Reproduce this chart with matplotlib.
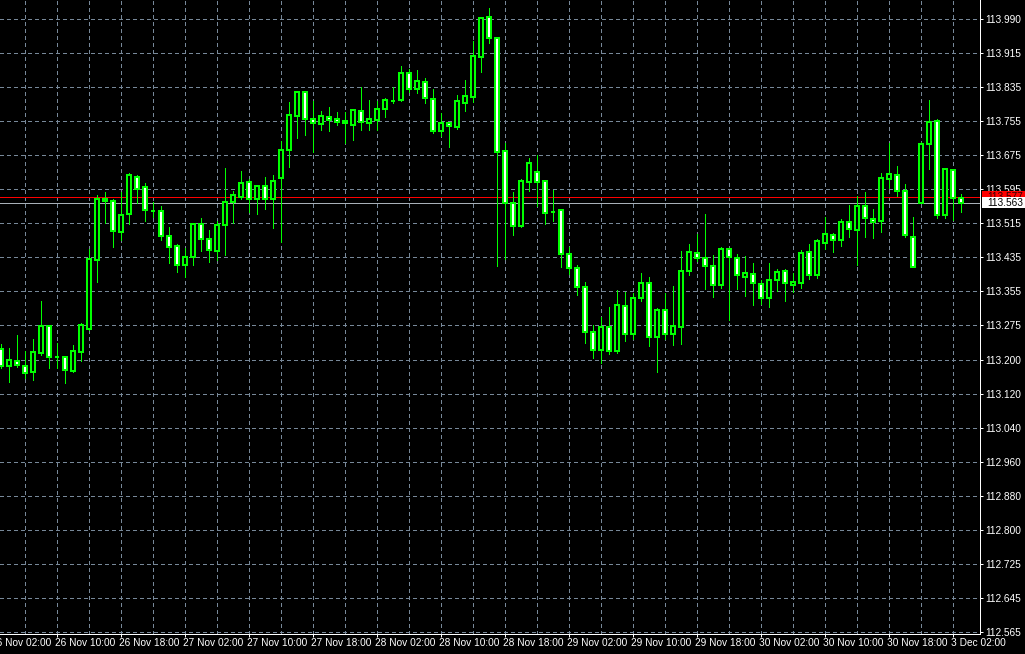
import numpy as np
import matplotlib.pyplot as plt
from matplotlib.patches import Rectangle

plt.rcParams["font.family"] = ["Liberation Sans", "DejaVu Sans"]

# ---------------------------------------------------------------------------
# H1 bars, 26 Nov 03:00 .. 3 Dec 03:00 (weekend skipped)
# ---------------------------------------------------------------------------
opens = [113.223, 113.183, 113.195, 113.183, 113.169, 113.214, 113.276, 113.204, 113.204, 113.172,
         113.216, 113.269, 113.430, 113.572, 113.567, 113.495, 113.537, 113.623, 113.600, 113.544,
         113.544, 113.486, 113.462, 113.418, 113.437, 113.514, 113.479, 113.451, 113.511, 113.565,
         113.576, 113.611, 113.572, 113.602, 113.572, 113.620, 113.686, 113.765, 113.820, 113.758,
         113.746, 113.762, 113.758, 113.753, 113.744, 113.776, 113.748, 113.755, 113.781, 113.799,
         113.802, 113.865, 113.827, 113.844, 113.804, 113.730, 113.748, 113.739, 113.795, 113.809,
         113.902, 113.995, 113.946, 113.683, 113.562, 113.509, 113.611, 113.634, 113.613, 113.541,
         113.546, 113.444, 113.411, 113.367, 113.262, 113.221, 113.274, 113.218, 113.323, 113.258,
         113.342, 113.376, 113.251, 113.314, 113.258, 113.274, 113.404, 113.446, 113.434, 113.416,
         113.372, 113.455, 113.434, 113.390, 113.397, 113.374, 113.342, 113.383, 113.404, 113.372,
         113.376, 113.448, 113.395, 113.469, 113.488, 113.476, 113.518, 113.500, 113.555, 113.525,
         113.520, 113.618, 113.627, 113.590, 113.483, 113.562, 113.699, 113.753, 113.534, 113.639,
         113.574]
highs = [113.235, 113.225, 113.255, 113.218, 113.246, 113.334, 113.276, 113.237, 113.207, 113.232,
         113.283, 113.455, 113.581, 113.588, 113.572, 113.588, 113.632, 113.627, 113.609, 113.565,
         113.555, 113.506, 113.467, 113.458, 113.514, 113.527, 113.500, 113.520, 113.644, 113.590,
         113.637, 113.618, 113.604, 113.623, 113.627, 113.706, 113.797, 113.820, 113.823, 113.799,
         113.776, 113.786, 113.774, 113.774, 113.778, 113.832, 113.802, 113.799, 113.806, 113.832,
         113.881, 113.874, 113.871, 113.853, 113.827, 113.772, 113.748, 113.813, 113.848, 113.939,
         113.995, 114.016, 113.946, 113.702, 113.588, 113.618, 113.667, 113.674, 113.616, 113.593,
         113.548, 113.460, 113.418, 113.379, 113.279, 113.297, 113.321, 113.360, 113.355, 113.353,
         113.400, 113.390, 113.318, 113.353, 113.369, 113.451, 113.467, 113.490, 113.537, 113.442,
         113.460, 113.458, 113.444, 113.439, 113.423, 113.383, 113.423, 113.409, 113.409, 113.400,
         113.453, 113.467, 113.479, 113.530, 113.493, 113.525, 113.558, 113.579, 113.588, 113.548,
         113.632, 113.702, 113.648, 113.607, 113.530, 113.704, 113.802, 113.758, 113.644, 113.641,
         113.583]
lows = [113.179, 113.146, 113.181, 113.156, 113.151, 113.209, 113.179, 113.179, 113.144, 113.169,
        113.195, 113.267, 113.379, 113.516, 113.460, 113.476, 113.514, 113.562, 113.520, 113.530,
        113.476, 113.423, 113.402, 113.390, 113.418, 113.451, 113.425, 113.430, 113.442, 113.516,
        113.572, 113.541, 113.537, 113.548, 113.504, 113.472, 113.646, 113.713, 113.720, 113.681,
        113.732, 113.730, 113.744, 113.702, 113.709, 113.732, 113.732, 113.732, 113.762, 113.795,
        113.799, 113.820, 113.818, 113.795, 113.725, 113.718, 113.693, 113.734, 113.776, 113.797,
        113.867, 113.934, 113.416, 113.432, 113.488, 113.506, 113.590, 113.555, 113.514, 113.520,
        113.414, 113.397, 113.348, 113.237, 113.202, 113.190, 113.211, 113.214, 113.242, 113.246,
        113.334, 113.230, 113.169, 113.246, 113.232, 113.235, 113.395, 113.428, 113.362, 113.344,
        113.365, 113.290, 113.362, 113.346, 113.325, 113.328, 113.321, 113.358, 113.334, 113.355,
        113.365, 113.386, 113.388, 113.455, 113.448, 113.462, 113.483, 113.418, 113.483, 113.481,
        113.495, 113.597, 113.579, 113.483, 113.414, 113.562, 113.641, 113.527, 113.527, 113.523,
        113.541]
closes = [113.183, 113.197, 113.186, 113.167, 113.216, 113.276, 113.204, 113.204, 113.174, 113.218,
          113.279, 113.432, 113.572, 113.567, 113.497, 113.534, 113.627, 113.595, 113.546, 113.544,
          113.486, 113.460, 113.418, 113.437, 113.514, 113.479, 113.453, 113.511, 113.565, 113.581,
          113.609, 113.572, 113.602, 113.572, 113.613, 113.686, 113.767, 113.820, 113.758, 113.748,
          113.765, 113.755, 113.751, 113.748, 113.778, 113.751, 113.758, 113.781, 113.802, 113.799,
          113.865, 113.827, 113.846, 113.806, 113.730, 113.748, 113.741, 113.799, 113.811, 113.904,
          113.992, 113.946, 113.681, 113.562, 113.509, 113.613, 113.655, 113.611, 113.539, 113.541,
          113.444, 113.411, 113.367, 113.262, 113.221, 113.274, 113.218, 113.325, 113.258, 113.342,
          113.376, 113.251, 113.314, 113.258, 113.276, 113.404, 113.448, 113.434, 113.416, 113.372,
          113.455, 113.437, 113.395, 113.400, 113.376, 113.342, 113.383, 113.402, 113.376, 113.379,
          113.446, 113.395, 113.474, 113.490, 113.476, 113.518, 113.502, 113.555, 113.527, 113.518,
          113.620, 113.630, 113.590, 113.488, 113.414, 113.699, 113.751, 113.534, 113.641, 113.574,
          113.563]

price_labels = ["113.990", "113.915", "113.835", "113.755", "113.675", "113.595", "113.515",
                "113.435", "113.355", "113.275", "113.200", "113.120", "113.040", "112.960",
                "112.880", "112.800", "112.725", "112.645", "112.565"]

time_labels = ["26 Nov 02:00", "26 Nov 10:00", "26 Nov 18:00", "27 Nov 02:00", "27 Nov 10:00",
               "27 Nov 18:00", "28 Nov 02:00", "28 Nov 10:00", "28 Nov 18:00", "29 Nov 02:00",
               "29 Nov 10:00", "29 Nov 18:00", "30 Nov 02:00", "30 Nov 10:00", "30 Nov 18:00",
               "3 Dec 02:00"]
label_bars = [-1, 7, 15, 23, 31, 39, 47, 55, 63, 71, 79, 87, 95, 103, 111, 119]

ask_price = 113.577
bid_price = 113.563

GREEN = "#00FF00"
GRID = "#778899"
LW = 0.72   # one pixel at 100 dpi

# ---------------------------------------------------------------------------
fig = plt.figure(figsize=(10.25, 6.54), dpi=100, facecolor="black")
ax = fig.add_axes([0, 20 / 654, 980 / 1025, 634 / 654])
ax.set_facecolor("black")

n = len(opens)
x = np.arange(n)

p_top = float(price_labels[0])
p_bot = float(price_labels[-1])
px_per_unit = 613 / (p_top - p_bot)
ax.set_ylim(p_bot - 2 / px_per_unit, p_top + 19 / px_per_unit)
ax.set_xlim(-1 / 16, 980 / 8 - 1 / 16)

# grid
yt = np.linspace(p_top, p_bot, len(price_labels))
for y in yt:
    ax.axhline(y, color=GRID, lw=LW, ls=(0, (3, 3)), zorder=0.5, antialiased=False)
for b in range(3, n, 4):
    ax.axvline(b, color=GRID, lw=LW, ls=(0, (3, 3)), zorder=0.5, antialiased=False)

# ask / bid lines
ax.axhline(ask_price, color="#FF0000", lw=LW, zorder=1, antialiased=False)
ax.axhline(bid_price, color="#A8B0B8", lw=LW, zorder=1, antialiased=False)

# candles
ax.vlines(x, lows, highs, color=GREEN, lw=LW, zorder=2, antialiased=False)
for i in range(n):
    o, c = opens[i], closes[i]
    fc = "black" if c >= o else "white"
    ax.add_patch(Rectangle((i - 0.25, min(o, c)), 0.5, abs(c - o),
                           fc=fc, ec=GREEN, lw=1.1, zorder=3, antialiased=False))

# axes styling
for s in ("left", "top"):
    ax.spines[s].set_visible(False)
for s in ("right", "bottom"):
    ax.spines[s].set_color("white")
    ax.spines[s].set_linewidth(LW)
    ax.spines[s].set_antialiased(False)

ax.yaxis.tick_right()
ax.set_yticks(yt)
ax.set_yticklabels(price_labels)
ax.tick_params(axis="y", colors="white", labelsize=7.3, length=2.5, width=LW,
               pad=1.5, direction="out")

ax.set_xticks(label_bars[1:])
ax.set_xticklabels([])
ax.tick_params(axis="x", colors="white", length=2.5, width=LW, direction="out")
for b, lab in zip(label_bars, time_labels):
    ax.annotate(lab, xy=(b, 0), xycoords=("data", "axes fraction"),
                xytext=(-0.8, -3.2), textcoords="offset points",
                ha="left", va="top", color="white", fontsize=7.3,
                annotation_clip=False)

# price label boxes on the scale (bid box sits over the ask box)
box_h = 11 / px_per_unit
tr = ax.get_yaxis_transform()
ax.add_patch(Rectangle((1.002, ask_price - box_h / 2), 0.05, box_h, transform=tr,
                       fc="#FF0000", ec="none", clip_on=False, zorder=5))
ax.text(1.0071, ask_price, f"{ask_price:.3f}", transform=tr, ha="left", va="center",
        fontsize=7.3, color="#300000", clip_on=False, zorder=6)
ax.add_patch(Rectangle((1.002, bid_price - box_h / 2), 0.05, box_h, transform=tr,
                       fc="white", ec="none", clip_on=False, zorder=7))
ax.text(1.0071, bid_price, f"{bid_price:.3f}", transform=tr, ha="left", va="center",
        fontsize=7.3, color="black", clip_on=False, zorder=8)

fig.savefig("out.png", dpi=100, facecolor="black")
